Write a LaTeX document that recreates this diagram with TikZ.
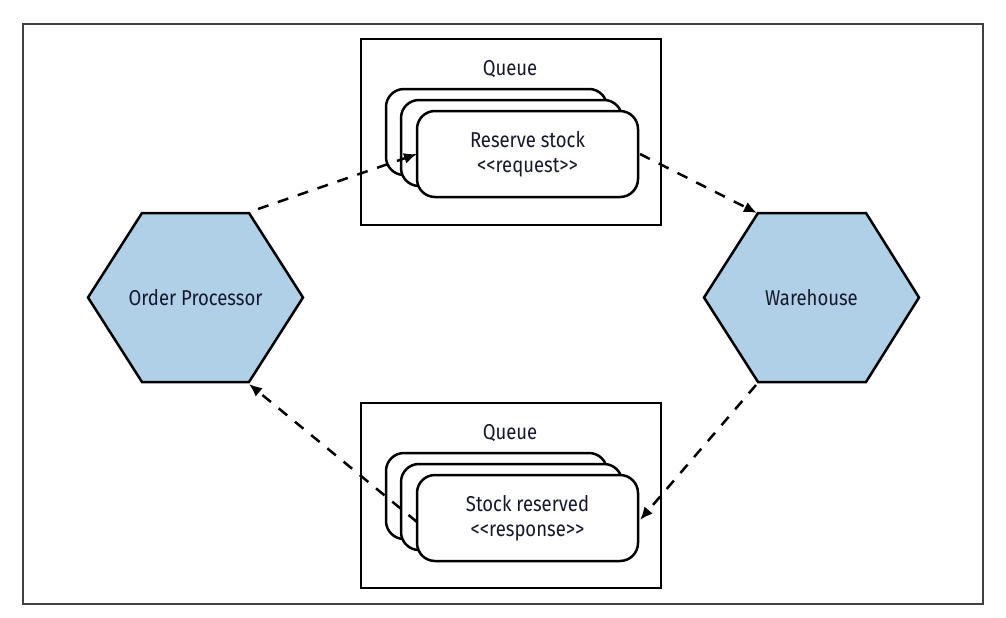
\documentclass[tikz,border=0pt]{standalone}
\usepackage{fontspec}
\newfontfamily\dfont{Fira Sans}[FakeStretch=0.86]
\usetikzlibrary{arrows.meta}
\definecolor{hexfill}{HTML}{B0D0E8}
\definecolor{txt}{HTML}{14182A}
\begin{document}
\begin{tikzpicture}[x=1pt,y=-1pt,
  frame/.style={draw=black!75,line width=1.5pt},
  hexshape/.style={draw=black,fill=hexfill,line width=2.5pt,line join=miter},
  label/.style={font=\dfont\fontsize{21.5}{25}\selectfont,text=txt,align=center,inner sep=0pt},
  queuebox/.style={draw=black,line width=2.5pt,fill=white},
  card/.style={draw=black,line width=2.5pt,fill=white,rounded corners=18pt,
    minimum width=221pt,minimum height=86pt,inner sep=0pt},
  flow/.style={draw=black,line width=2.5pt,dash pattern=on 11pt off 10pt,
    -{Latex[length=13pt,width=11pt]}}]
\useasboundingbox (0,0) rectangle (1006,618);
\draw[frame] (23,24) rectangle (983,604);

% Order Processor hexagon
\coordinate (opL) at (88,297.5);
\coordinate (opTL) at (142,213);
\coordinate (opTR) at (249,213);
\coordinate (opR) at (303,297.5);
\coordinate (opBR) at (249,382);
\coordinate (opBL) at (142,382);
\path[hexshape] (opL) -- (opTL) -- (opTR) -- (opR) -- (opBR) -- (opBL) -- cycle;
\node[label] (op) at (195.5,298) {Order Processor};

% Warehouse hexagon
\coordinate (whL) at (704,297.5);
\coordinate (whTL) at (758,213);
\coordinate (whTR) at (866,213);
\coordinate (whR) at (919,297.5);
\coordinate (whBR) at (866,382);
\coordinate (whBL) at (758,382);
\path[hexshape] (whL) -- (whTL) -- (whTR) -- (whR) -- (whBR) -- (whBL) -- cycle;
\node[label] (wh) at (811.5,298) {Warehouse};

% Top queue
\draw[queuebox] (361,39) rectangle (661,225);
\node[label] (q1) at (510,69) {Queue};
\node[card] (rqa) at (496.5,132) {};
\node[card] (rqb) at (511.5,143) {};
\node[card,label] (rq) at (527.5,154) {Reserve stock\\<<request>>};
% Bottom queue
\draw[queuebox] (361,403) rectangle (661,588);
\node[label] (q2) at (510,433) {Queue};
\node[card] (rsa) at (496.5,496) {};
\node[card] (rsb) at (511.5,507) {};
\node[card,label] (rs) at (527.5,518) {Stock reserved\\<<response>>};

% connectors
\coordinate (a1s) at (258,209);
\coordinate (a1e) at (417,154);
\coordinate (a2s) at (640,154);
\coordinate (a2e) at (757,213);
\coordinate (a3s) at (756,385);
\coordinate (a3e) at (640,520);
\coordinate (a4s) at (417,522);
\coordinate (a4e) at (249,384);
\draw[flow] (a1s) -- (a1e);
\draw[flow] (a2s) -- (a2e);
\draw[flow] (a3s) -- (a3e);
\draw[flow] (a4s) -- (a4e);
\end{tikzpicture}
\end{document}
